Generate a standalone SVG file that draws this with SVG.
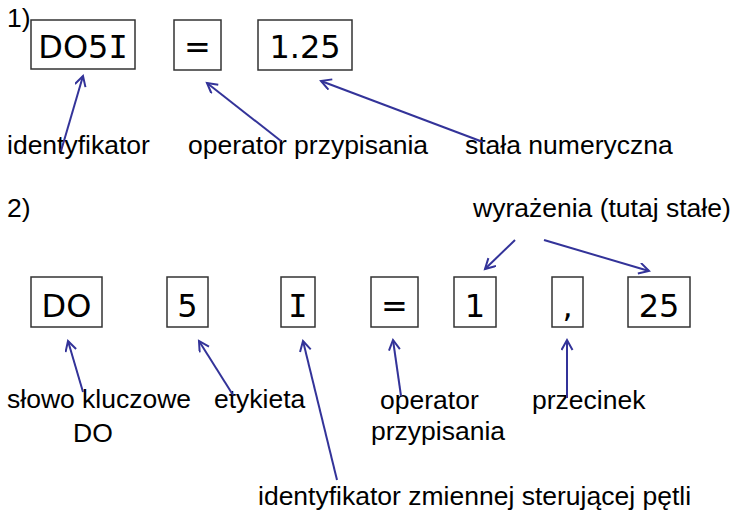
<svg xmlns="http://www.w3.org/2000/svg" width="732" height="512" viewBox="0 0 732 512">
<style>
.box{fill:#ffffff;stroke:#333333;stroke-width:1.5}
.tok{font-family:"DejaVu Sans","Verdana",sans-serif;font-size:32px;fill:#000000;text-anchor:middle}
.mono{font-family:"DejaVu Sans Mono",monospace}
.lbl{font-family:"Liberation Sans",Arial,sans-serif;font-size:26.5px;fill:#000000}
.conn line{stroke:#333399;stroke-width:2;fill:none;marker-end:url(#ah)}
</style>
<defs>
<marker id="ah" markerWidth="14" markerHeight="14" refX="11" refY="6" orient="auto" markerUnits="userSpaceOnUse">
<path d="M1,0.5 L11,6 L1,11.5" fill="none" stroke="#333399" stroke-width="2"/>
</marker>
</defs>
<rect width="732" height="512" fill="#ffffff"/>
<g id="num1"><text class="lbl" x="7" y="27">1)</text></g>
<g id="t1_DO5I"><rect class="box" x="31" y="20" width="104" height="49"/><text class="tok" x="83" y="58">DO5<tspan class="mono">I</tspan></text></g>
<g id="t1_eq"><rect class="box" x="174" y="20" width="47" height="50"/><text class="tok" x="197.5" y="58">=</text></g>
<g id="t1_num"><rect class="box" x="258" y="20" width="94" height="50"/><text class="tok" x="305" y="58">1.25</text></g>
<g id="l1_ident"><text class="lbl" x="7" y="154">identyfikator</text></g>
<g id="l1_op"><text class="lbl" x="188" y="154">operator przypisania</text></g>
<g id="l1_const"><text class="lbl" x="465" y="154">stała numeryczna</text></g>
<g id="num2"><text class="lbl" x="7" y="217">2)</text></g>
<g id="l2_expr"><text class="lbl" x="473" y="217">wyrażenia (tutaj stałe)</text></g>
<g id="t2_DO"><rect class="box" x="31" y="277" width="71" height="50"/><text class="tok" x="66.5" y="317">DO</text></g>
<g id="t2_5"><rect class="box" x="167" y="277" width="41" height="50"/><text class="tok" x="187.5" y="317">5</text></g>
<g id="t2_I"><rect class="box" x="281" y="277" width="34" height="50"/><text class="tok mono" x="298" y="317">I</text></g>
<g id="t2_eq"><rect class="box" x="371" y="277" width="47" height="50"/><text class="tok" x="394.5" y="317">=</text></g>
<g id="t2_1"><rect class="box" x="454" y="277" width="42" height="50"/><text class="tok" x="475" y="317">1</text></g>
<g id="t2_comma"><rect class="box" x="552" y="277" width="31" height="50"/><text class="tok" x="567.5" y="317">,</text></g>
<g id="t2_25"><rect class="box" x="628" y="277" width="62" height="50"/><text class="tok" x="659" y="317">25</text></g>
<g id="l2_kw"><text class="lbl" x="7" y="408">słowo kluczowe</text><text class="lbl" x="73" y="442">DO</text></g>
<g id="l2_label"><text class="lbl" x="214" y="408">etykieta</text></g>
<g id="l2_op"><text class="lbl" x="380" y="409">operator</text><text class="lbl" x="371" y="440">przypisania</text></g>
<g id="l2_comma"><text class="lbl" x="532" y="409">przecinek</text></g>
<g id="l2_var"><text class="lbl" x="258" y="505">identyfikator zmiennej sterującej pętli</text></g>
<g id="connectors" class="conn">
<line x1="61" y1="151" x2="83" y2="76"/>
<line x1="281" y1="141" x2="207" y2="83"/>
<line x1="483" y1="142" x2="321" y2="81"/>
<line x1="515" y1="240" x2="485" y2="269"/>
<line x1="544" y1="240" x2="649" y2="271"/>
<line x1="83" y1="392" x2="68" y2="341"/>
<line x1="233" y1="395" x2="199" y2="341"/>
<line x1="337" y1="480" x2="303" y2="341"/>
<line x1="401" y1="396" x2="393" y2="340"/>
<line x1="567" y1="398" x2="567" y2="340"/>
</g>
</svg>
